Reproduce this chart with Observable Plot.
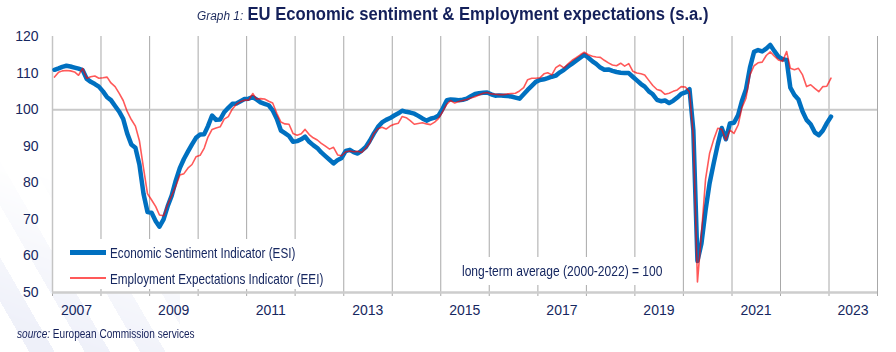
<!DOCTYPE html>
<html><head><meta charset="utf-8">
<script src="https://cdn.jsdelivr.net/npm/d3@7"></script>
<script src="https://cdn.jsdelivr.net/npm/@observablehq/plot@0.6"></script>
<style>
body{margin:0;background:#fff;}
#wrap{position:relative;width:896px;height:352px;overflow:hidden;font-family:"Liberation Sans",Arial,sans-serif;color:#162760;}
#stripes{position:absolute;left:-40px;top:120px;width:220px;height:260px;
 background:repeating-linear-gradient(60deg,#ffffff 0px,#ffffff 26px,#eef0f9 26px,#eef0f9 48px);
 -webkit-mask-image:linear-gradient(20deg,rgba(0,0,0,1) 20%,rgba(0,0,0,0) 70%);mask-image:linear-gradient(20deg,rgba(0,0,0,1) 20%,rgba(0,0,0,0) 70%);}
#title{position:absolute;top:4px;left:197px;white-space:nowrap;transform:scaleX(0.95);transform-origin:left center;}
#title .g{font-style:italic;font-size:12.5px;color:#1c2a5c;}
#title .t{font-weight:bold;font-size:17.5px;color:#14205a;}
#chart{position:absolute;left:0;top:26px;}
.box{position:absolute;background:#fff;}
#legend{left:55px;top:239px;width:282px;height:50px;font-size:15px;}
.li{position:absolute;left:15px;height:14px;display:flex;align-items:center;white-space:nowrap;}
.sw{display:inline-block;width:36px;margin-right:4px;}
.tx{display:inline-block;transform:scaleX(0.78);transform-origin:left center;}
#note{left:446px;top:257px;width:224px;height:28px;font-size:14px;line-height:28px;white-space:nowrap;}
#note span{position:absolute;left:16px;transform:scaleX(0.86);transform-origin:left center;}
#source{position:absolute;left:17px;top:327px;font-size:12px;color:#14205a;white-space:nowrap;transform:scaleX(0.84);transform-origin:left center;}
</style></head>
<body><div id="wrap">
<div id="stripes"></div>
<div id="title"><span class="g">Graph 1:</span> <span class="t">EU Economic sentiment &amp; Employment expectations (s.a.)</span></div>
<div id="chart"></div>
<div id="legend" class="box">
 <div class="li" style="top:6px"><span class="sw" style="border-top:5px solid #0070c0"></span><span class="tx" id="l1"></span></div>
 <div class="li" style="top:32px"><span class="sw" style="border-top:2px solid rgba(255,0,0,0.65)"></span><span class="tx" id="l2"></span></div>
</div>
<div id="note" class="box"><span id="nt"></span></div>
<div id="source"><i>source:</i> European Commission services</div>
</div>
<script>
// Monthly values, January 2007 to January 2023
const startYear = 2007;
const esi = [
110.9,111.3,111.7,112.0,111.8,111.5,111.2,110.8,108.4,107.6,107.0,106.3,
105.0,103.4,102.6,101.0,99.5,97.5,93.5,90.5,89.6,85.0,77.0,72.0,
71.8,69.5,68.0,70.0,73.5,76.5,80.5,84.0,86.5,88.5,90.5,92.3,
93.2,93.3,95.5,98.4,97.2,97.3,99.3,100.5,101.6,101.7,102.3,102.9,
103.0,103.4,102.8,102.0,101.6,101.2,99.8,97.5,94.3,93.6,92.8,91.2,
91.4,91.9,92.6,91.2,90.3,89.5,88.3,87.3,86.3,85.3,86.2,86.8,
88.7,89.0,88.4,88.0,88.8,89.8,91.5,93.5,95.3,96.5,97.2,97.7,
98.4,99.0,99.7,99.4,99.2,98.9,98.3,97.6,97.0,97.5,97.8,98.4,
100.3,102.6,102.8,102.7,102.6,102.7,103.0,103.7,104.3,104.5,104.6,104.7,
104.2,103.8,103.9,103.8,103.7,103.6,103.3,103.0,104.2,105.4,106.5,107.6,
108.1,108.3,108.6,109.0,109.3,110.2,110.9,111.8,112.6,113.4,114.2,115.0,
114.2,113.2,112.5,111.5,110.9,111.0,110.6,110.3,110.1,110.0,110.0,109.0,
108.0,107.0,106.3,105.0,104.2,102.7,102.3,102.5,101.8,102.4,103.3,104.3,
104.7,105.6,94.4,58.6,63.4,72.5,79.8,85.3,90.5,95.0,91.9,96.2,
96.4,98.5,102.3,105.5,111.5,115.8,116.3,115.9,116.7,117.7,116.0,114.5,
113.8,113.6,106.0,104.0,102.8,99.5,97.2,96.0,93.8,93.0,94.3,96.3,
98.1];
const eei = [
108.9,110.2,110.6,110.7,110.6,110.3,109.4,111.3,108.6,109.0,109.2,108.6,
108.7,108.9,107.3,106.3,104.5,102.5,99.5,97.3,95.5,91.5,84.0,77.0,
75.3,73.5,71.2,71.0,74.0,76.5,79.0,82.1,82.5,84.0,85.0,87.1,
87.5,89.5,92.5,94.6,95.0,95.3,97.4,98.1,100.2,101.5,102.2,102.6,
102.6,104.4,102.9,103.0,102.9,102.3,101.8,99.0,96.6,96.1,96.0,93.5,
93.0,93.4,94.6,93.2,92.3,91.7,90.8,90.0,89.2,89.7,87.6,87.4,
88.5,88.7,88.5,88.6,88.3,89.5,90.9,93.5,94.8,95.2,94.7,95.5,
96.0,96.3,98.1,97.8,97.0,96.0,96.2,96.4,96.1,95.9,96.6,97.6,
99.5,101.5,102.5,101.8,102.2,102.5,102.8,103.2,103.5,104.0,104.5,104.7,
104.3,104.2,104.1,104.1,104.3,104.4,104.5,105.1,106.0,108.2,108.6,108.6,
108.7,109.8,110.1,109.5,111.5,112.2,111.4,112.5,113.5,114.2,115.0,115.7,
115.0,114.6,114.4,114.3,113.5,112.8,112.2,112.0,112.7,111.9,112.6,110.5,
110.0,109.8,109.5,108.0,106.6,105.5,105.2,104.2,104.5,105.0,105.4,106.3,
106.2,104.9,92.6,52.9,66.0,81.0,88.0,91.8,94.9,94.6,91.7,94.4,
93.5,95.8,100.5,103.1,109.5,112.0,112.8,113.0,114.8,115.8,114.6,113.6,
113.2,115.9,111.3,110.9,111.3,109.5,106.3,106.8,105.8,104.9,106.3,106.4,
108.6];
const yTicks = [50,60,70,80,90,100,110,120];
const gridYears = [2007,2008,2009,2010,2011,2012,2013,2014,2015,2016,2017,2018,2019,2020,2021,2022,2023,2024];
const labelYears = [2007,2009,2011,2013,2015,2017,2019,2021,2023];
const seriesNames = ["Economic Sentiment Indicator (ESI)","Employment Expectations Indicator (EEI)"];
const noteText = "long-term average (2000-2022) = 100";

const data = esi.map((v,i)=>({date:new Date(Date.UTC(startYear,i,16)), esi:v, eei:eei[i]}));
const navy = "#162760";
const font = '"Liberation Sans",Arial,sans-serif';

const plot = Plot.plot({
  width: 896, height: 300,
  marginLeft: 52, marginRight: 19, marginTop: 10, marginBottom: 34,
  style: {background:"transparent", fontFamily: font, fontSize:"13px", color: navy, overflow:"visible"},
  x: {type:"utc", domain:[new Date(Date.UTC(2007,0,1)), new Date(Date.UTC(2024,0,1))]},
  y: {domain:[50,120]},
  marks: [
    Plot.frame({fill:"white", stroke:null}),
    Plot.ruleX(gridYears.map(y=>new Date(Date.UTC(y,0,1))), {stroke:"#a8a8a8", strokeWidth:1, insetBottom:-4}),
    Plot.ruleY([100], {stroke:"#c9c9c9", strokeWidth:2}),
    Plot.ruleX([new Date(Date.UTC(2007,0,1))], {stroke:"#c4c4c4", strokeWidth:1.5}),
    Plot.ruleY([50], {stroke:"#cdcdcd", strokeWidth:2.5}),
    Plot.line(data, {x:"date", y:"esi", stroke:"#0070c0", strokeWidth:4.5, strokeLinejoin:"round", strokeLinecap:"round"}),
    Plot.line(data, {x:"date", y:"eei", stroke:"#ff0000", strokeOpacity:0.65, strokeWidth:1.6, strokeLinejoin:"round"}),
    Plot.axisY(yTicks, {tickSize:0, tickPadding:14, fill:navy, fontSize:14}),
    Plot.axisX(labelYears.map(y=>new Date(Date.UTC(y,6,1))), {tickSize:0, tickPadding:13, fill:navy, fontSize:14, tickFormat:d=>String(d.getUTCFullYear())})
  ]
});
document.getElementById("chart").appendChild(plot);
document.getElementById("l1").textContent = seriesNames[0];
document.getElementById("l2").textContent = seriesNames[1];
document.getElementById("nt").textContent = noteText;
</script>
</body></html>
